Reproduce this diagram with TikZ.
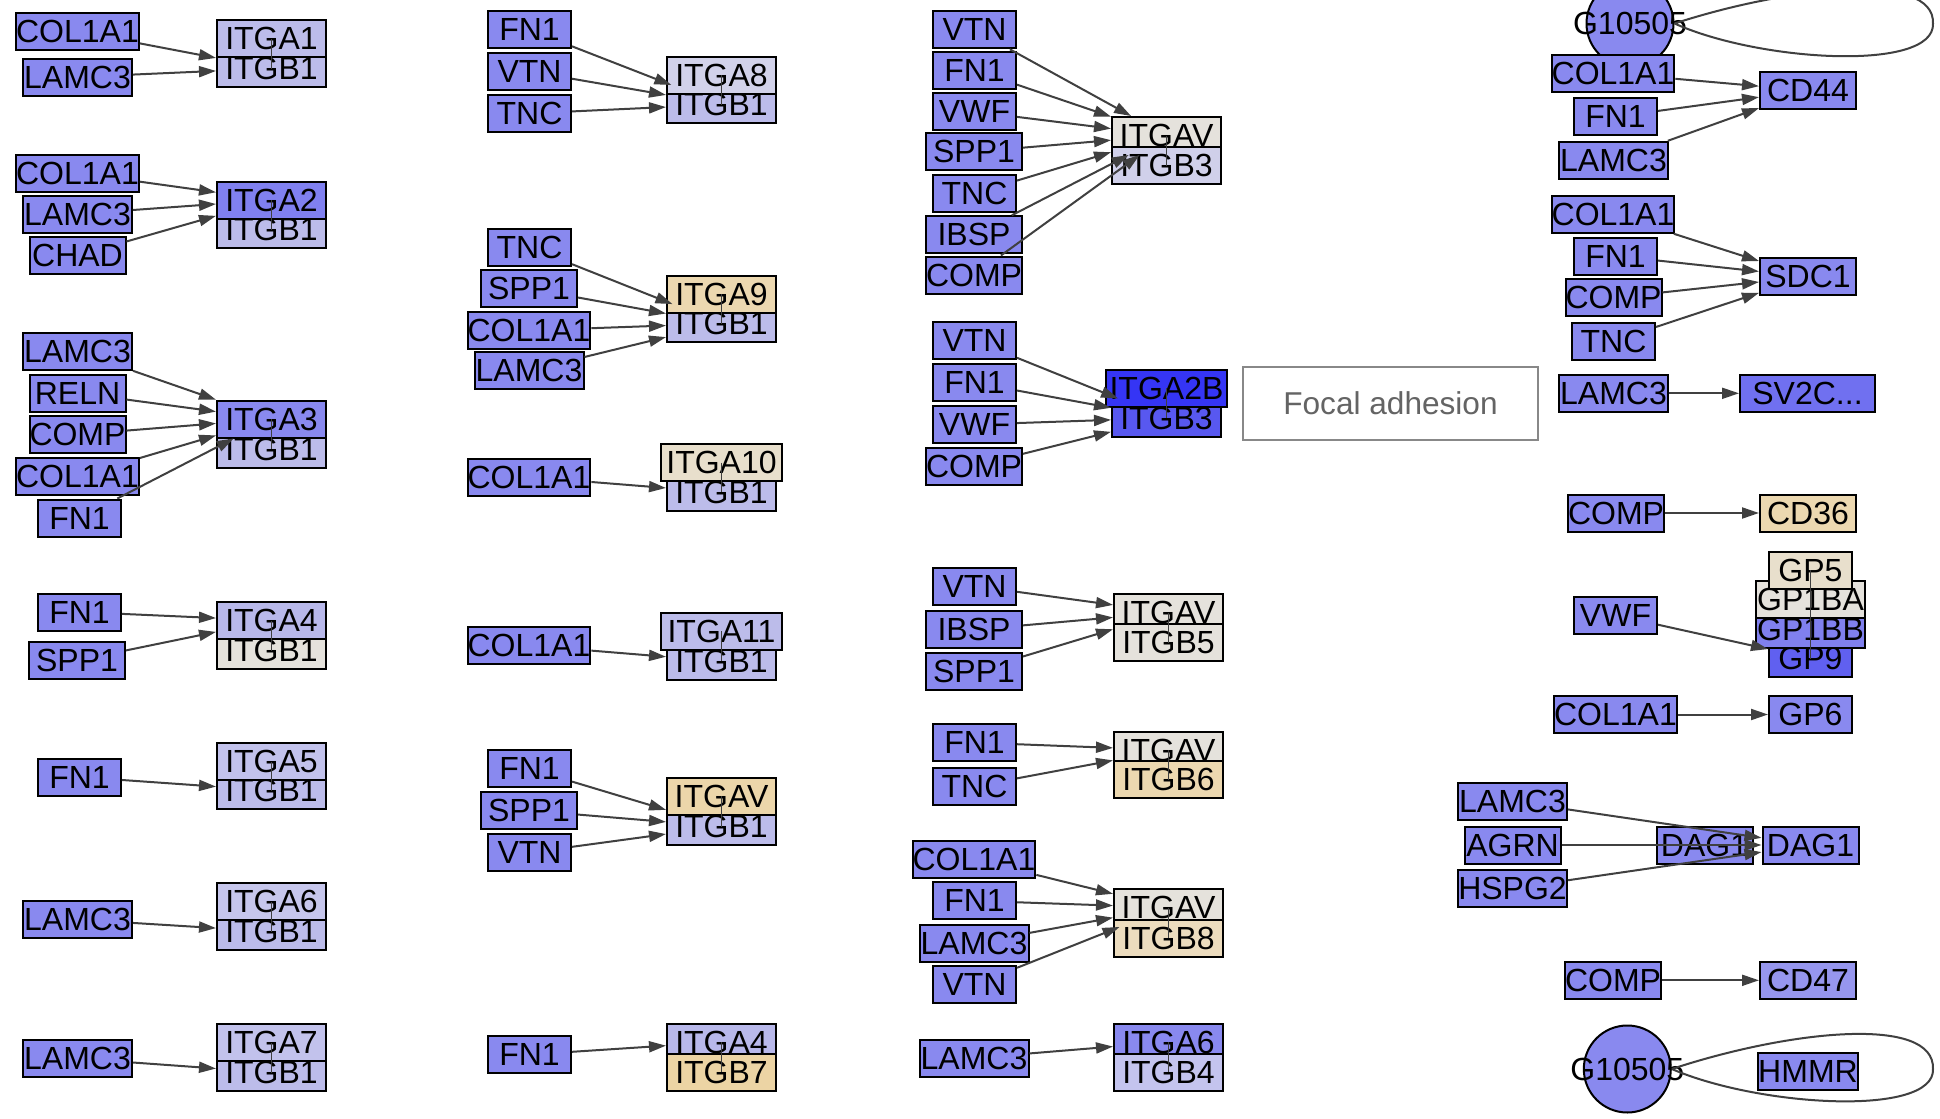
\documentclass[tikz,border=0pt]{standalone}
\usepackage{fontspec}
\setmainfont{Liberation Sans}
\usetikzlibrary{arrows.meta}
\newcommand{\gfont}{\fontsize{16}{18}\selectfont}
\definecolor{cSrc}{RGB}{137,137,239}
\definecolor{cEdge}{RGB}{64,64,64}
\definecolor{cLav}{RGB}{188,188,234}
\definecolor{cLavA4}{RGB}{184,184,234}
\definecolor{cLavA5}{RGB}{194,194,236}
\definecolor{cLavA6}{RGB}{198,198,236}
\definecolor{cLavA8}{RGB}{210,210,234}
\definecolor{cLavB3}{RGB}{208,208,234}
\definecolor{cLavB4}{RGB}{196,196,238}
\definecolor{cGrey}{RGB}{229,226,220}
\definecolor{cGreyA10}{RGB}{232,223,204}
\definecolor{cBeige}{RGB}{236,216,176}
\definecolor{cBeigeAV}{RGB}{236,214,170}
\definecolor{cBeigeB7}{RGB}{236,212,164}
\definecolor{cBeigeB8}{RGB}{236,220,190}
\definecolor{cBlueA2}{RGB}{128,128,240}
\definecolor{cBlueA2B}{RGB}{53,53,245}
\definecolor{cBlueB3}{RGB}{88,88,240}
\definecolor{cSV}{RGB}{112,112,240}
\definecolor{cGPBB}{RGB}{128,128,238}
\definecolor{cGP9}{RGB}{96,96,240}
\definecolor{cCD47}{RGB}{150,150,238}
\definecolor{cFA}{RGB}{136,136,136}
\definecolor{cFAt}{RGB}{100,100,100}
\tikzset{
  box/.style={draw=black, line width=1pt, rectangle, inner sep=0pt, minimum height=18.5pt, font=\gfont},
  wA/.style={minimum width=41.5pt},
  wB/.style={minimum width=48pt},
  wC/.style={minimum width=54.5pt},
  wD/.style={minimum width=60.5pt},
  wE/.style={minimum width=67.5pt},
  src/.style={box, fill=cSrc},
  mem/.style={box, wC, fill=#1},
  link/.style={draw=cEdge, line width=1pt, -{Triangle[length=8.5pt,width=5.5pt]}},
  cline/.style={draw=cEdge, line width=0.8pt},
  gcirc/.style={circle, draw=black, line width=1pt, fill=cSrc, minimum size=43.5pt, inner sep=0pt},
  loopline/.style={draw=cEdge, line width=1pt},
}
\begin{document}
\begin{tikzpicture}[x=0.5pt,y=-0.5pt]
\path[use as bounding box, fill=white] (0,0) rectangle (1940,1119);

% ---------------- Column 1 ----------------
% G1
\node[src,wD] (s1a) at (77.5,31.5) {COL1A1};
\node[src,wC] (s1b) at (77.5,77) {LAMC3};
\node[mem=cLav] (b1) at (271.5,68.5) {ITGB1};
\node[mem=cLav] (a1) at (271.5,38.5) {ITGA1};
% G2
\node[src,wD] (s2a) at (77.5,173) {COL1A1};
\node[src,wC] (s2b) at (77.5,214) {LAMC3};
\node[src,wB] (s2c) at (77.5,255.5) {CHAD};
\node[mem=cLav] (b2) at (271.5,229.5) {ITGB1};
\node[mem=cBlueA2] (a2) at (271.5,200) {ITGA2};
% G3
\node[src,wC] (s3a) at (77.5,351.5) {LAMC3};
\node[src,wB] (s3b) at (77.5,393) {RELN};
\node[src,wB] (s3c) at (77.5,434.5) {COMP};
\node[src,wD] (s3d) at (77.5,476.5) {COL1A1};
\node[src,wA] (s3e) at (79.5,518) {FN1};
\node[mem=cLav] (b3) at (271.5,449) {ITGB1};
\node[mem=cSrc] (a3) at (271.5,419) {ITGA3};
% G4
\node[src,wA] (s4a) at (79.5,612) {FN1};
\node[src,wB] (s4b) at (77,660.5) {SPP1};
\node[mem=cGrey] (b4) at (271.5,650.5) {ITGB1};
\node[mem=cLavA4] (a4) at (271.5,620.5) {ITGA4};
% G5
\node[src,wA] (s5a) at (79.5,777) {FN1};
\node[mem=cLav] (b5) at (271.5,790.5) {ITGB1};
\node[mem=cLavA5] (a5) at (271.5,761.5) {ITGA5};
% G6
\node[src,wC] (s6a) at (77.5,919.5) {LAMC3};
\node[mem=cLav] (b6) at (271.5,931.5) {ITGB1};
\node[mem=cLavA6] (a6) at (271.5,901.5) {ITGA6};
% G7
\node[src,wC] (s7a) at (77.5,1058.5) {LAMC3};
\node[mem=cLav] (b7) at (271.5,1072.5) {ITGB1};
\node[mem=cLavA5] (a7) at (271.5,1042.5) {ITGA7};

% ---------------- Column 2 ----------------
% G8
\node[src,wA] (s8a) at (529.5,29.8) {FN1};
\node[src,wA] (s8b) at (529.5,71.4) {VTN};
\node[src,wA] (s8c) at (529.5,113.4) {TNC};
\node[mem=cLav] (b8) at (721.5,104.5) {ITGB1};
\node[mem=cLavA8] (a8) at (721.5,75) {ITGA8};
% G9
\node[src,wA] (s9a) at (529.5,247.3) {TNC};
\node[src,wB] (s9b) at (529,288.6) {SPP1};
\node[src,wD] (s9c) at (529,330.4) {COL1A1};
\node[src,wC] (s9d) at (529,370.5) {LAMC3};
\node[mem=cLav] (b9) at (721.5,323.6) {ITGB1};
\node[mem=cBeige] (a9) at (721.5,294) {ITGA9};
% G10
\node[src,wD] (s10a) at (529,477) {COL1A1};
\node[mem=cLav] (b10) at (721.5,492.4) {ITGB1};
\node[mem=cGreyA10,wD] (a10) at (721.5,462.5) {ITGA10};
% G11
\node[src,wD] (s11a) at (529,645.5) {COL1A1};
\node[mem=cLav] (b11) at (721.5,661.3) {ITGB1};
\node[mem=cLav,wD] (a11) at (721.5,631) {ITGA11};
% G12
\node[src,wA] (s12a) at (529.5,768.8) {FN1};
\node[src,wB] (s12b) at (529,810.5) {SPP1};
\node[src,wA] (s12c) at (529.5,852.6) {VTN};
\node[mem=cLav] (b12) at (721.5,826.5) {ITGB1};
\node[mem=cBeigeAV] (a12) at (721.5,796.4) {ITGAV};
% G13
\node[src,wA] (s13a) at (529.5,1054.6) {FN1};
\node[mem=cLavA4] (a13) at (721.5,1042) {ITGA4};
\node[mem=cBeigeB7] (b13) at (721.5,1072) {ITGB7};

% ---------------- Column 3 ----------------
% G14
\node[src,wA] (s14a) at (974.5,29.8) {VTN};
\node[src,wA] (s14b) at (974.5,70.2) {FN1};
\node[src,wA] (s14c) at (974.5,111.6) {VWF};
\node[src,wB] (s14d) at (974,151.8) {SPP1};
\node[src,wA] (s14e) at (974.5,193.4) {TNC};
\node[src,wB] (s14f) at (974,234.8) {IBSP};
\node[src,wB] (s14g) at (974,275) {COMP};
\node[mem=cGrey] (a14) at (1166.5,135.5) {ITGAV};
\node[mem=cLavB3] (b14) at (1166.5,165.5) {ITGB3};
% G15
\node[src,wA] (s15a) at (974.5,340.7) {VTN};
\node[src,wA] (s15b) at (974.5,382.7) {FN1};
\node[src,wA] (s15c) at (974.5,424.5) {VWF};
\node[src,wB] (s15d) at (974,466) {COMP};
\node[mem=cBlueB3] (b15) at (1166.5,418) {ITGB3};
\node[mem=cBlueA2B,wD] (a15) at (1166.5,388) {ITGA2B};
% G16
\node[src,wA] (s16a) at (974.5,586) {VTN};
\node[src,wB] (s16b) at (974,629.7) {IBSP};
\node[src,wB] (s16c) at (974,671.3) {SPP1};
\node[mem=cGrey] (a16) at (1168.5,612.5) {ITGAV};
\node[mem=cGrey] (b16) at (1168.5,642.5) {ITGB5};
% G17
\node[src,wA] (s17a) at (974.5,742.6) {FN1};
\node[src,wA] (s17b) at (974.5,786.3) {TNC};
\node[mem=cGrey] (a17) at (1168.5,750) {ITGAV};
\node[mem=cBeige] (b17) at (1168.5,779.5) {ITGB6};
% G18
\node[src,wD] (s18a) at (974,859.5) {COL1A1};
\node[src,wA] (s18b) at (974.5,900.8) {FN1};
\node[src,wC] (s18c) at (974,943) {LAMC3};
\node[src,wA] (s18d) at (974.5,984.7) {VTN};
\node[mem=cGrey] (a18) at (1168.5,907.5) {ITGAV};
\node[mem=cBeigeB8] (b18) at (1168.5,938) {ITGB8};
% G19
\node[src,wC] (s19a) at (974,1058) {LAMC3};
\node[mem=cSrc] (a19) at (1168.5,1042) {ITGA6};
\node[mem=cLavB4] (b19) at (1168.5,1072) {ITGB4};

% Focal adhesion label box
\node[draw=cFA, line width=1pt, rectangle, inner sep=0pt, minimum width=147.5pt, minimum height=36.5pt, text=cFAt, font=\fontsize{15.8}{18}\selectfont] (fa) at (1390.5,403.5) {Focal adhesion};

% ---------------- Column 4 ----------------
\node[gcirc, label={[font=\gfont]center:G10505}] (gA) at (1630,23.5) {};
% CD44
\node[src,wD] (c1a) at (1613,73.3) {COL1A1};
\node[src,wA] (c1b) at (1615.5,116.7) {FN1};
\node[src,wC] (c1c) at (1613.5,160.3) {LAMC3};
\node[src,wB] (cd44) at (1808,90.5) {CD44};
% SDC1
\node[src,wD] (c2a) at (1613,214.3) {COL1A1};
\node[src,wA] (c2b) at (1615.5,256) {FN1};
\node[src,wB] (c2c) at (1613.5,297.7) {COMP};
\node[src,wA] (c2d) at (1613.5,341) {TNC};
\node[src,wB] (sdc1) at (1808,276.7) {SDC1};
% SV2C
\node[src,wC] (c3a) at (1613.5,393.3) {LAMC3};
\node[box,wE,fill=cSV] (sv2c) at (1807.5,393.3) {SV2C...};
% CD36
\node[src,wB] (c4a) at (1616,513) {COMP};
\node[box,wB,fill=cBeige] (cd36) at (1808,513) {CD36};
% GP complex
\node[src,wA] (c5a) at (1615.5,615.3) {VWF};
\node[box,wA,fill=cGP9] (gp9) at (1810.5,658.5) {GP9};
\node[box,wC,fill=cGPBB] (gp1bb) at (1810.5,629.5) {GP1BB};
\node[box,wC,fill=cGrey] (gp1ba) at (1810.5,599.5) {GP1BA};
\node[box,wA,fill=cGreyA10] (gp5) at (1810.5,570) {GP5};
% GP6
\node[src,wD] (c6a) at (1615.5,714.5) {COL1A1};
\node[src,wA] (gp6) at (1810.5,714.5) {GP6};
% DAG1
\node[src,wC] (c7a) at (1512.5,801.3) {LAMC3};
\node[src,wB] (c7b) at (1512.5,845) {AGRN};
\node[src,wC] (c7c) at (1512.5,888.3) {HSPG2};
\node[src,wB] (dag1l) at (1704.5,845) {DAG1};
\node[src,wB] (dag1r) at (1810.5,845) {DAG1};
% CD47
\node[src,wB] (c8a) at (1613,980.3) {COMP};
\node[box,wB,fill=cCD47] (cd47) at (1808,980.3) {CD47};
% bottom G10505
\node[gcirc, label={[font=\gfont]center:G10505}] (gB) at (1627.3,1069) {};
\node[src,wB] (hmmr) at (1808,1071) {HMMR};

% ---------------- complex member lines ----------------
\foreach \p/\q in {a1/b1,a2/b2,a3/b3,a4/b4,a5/b5,a6/b6,a7/b7,a8/b8,a9/b9,a10/b10,a11/b11,a12/b12,a13/b13,a14/b14,a15/b15,a16/b16,a17/b17,a18/b18,a19/b19,gp5/gp9}
  \draw[cline] (\p.center) -- (\q.center);

% ---------------- edges ----------------
\draw[link] (s1a) -- (b1);
\draw[link] (s1b) -- (b1);
\draw[link] (s2a) -- (a2);
\draw[link] (s2b) -- (a2);
\draw[link] (s2c) -- (a2);
\draw[link] (s3a) -- (a3);
\draw[link] (s3b) -- (a3);
\draw[link] (s3c) -- (a3);
\draw[link] (s3d) -- (a3);
\draw[link] (s3e) -- (a3);
\draw[link] (s4a) -- (a4);
\draw[link] (s4b) -- (a4);
\draw[link] (s5a) -- (b5);
\draw[link] (s6a) -- (b6);
\draw[link] (s7a) -- (b7);

\draw[link] (s8a) -- (b8);
\draw[link] (s8b) -- (b8);
\draw[link] (s8c) -- (b8);
\draw[link] (s9a) -- (b9);
\draw[link] (s9b) -- (b9);
\draw[link] (s9c) -- (b9);
\draw[link] (s9d) -- (b9);
\draw[link] (s10a) -- (b10);
\draw[link] (s11a) -- (b11);
\draw[link] (s12a) -- (b12);
\draw[link] (s12b) -- (b12);
\draw[link] (s12c) -- (b12);
\draw[link] (s13a) -- (a13);

\draw[link] (s14a) -- (a14);
\draw[link] (s14b) -- (a14);
\draw[link] (s14c) -- (a14);
\draw[link] (s14d) -- (a14);
\draw[link] (s14e) -- (a14);
\draw[link] (s14f) -- (a14);
\draw[link] (s14g) -- (a14);
\draw[link] (s15a) -- (b15);
\draw[link] (s15b) -- (b15);
\draw[link] (s15c) -- (b15);
\draw[link] (s15d) -- (b15);
\draw[link] (s16a) -- (a16);
\draw[link] (s16b) -- (a16);
\draw[link] (s16c) -- (a16);
\draw[link] (s17a) -- (a17);
\draw[link] (s17b) -- (a17);
\draw[link] (s18a) -- (a18);
\draw[link] (s18b) -- (a18);
\draw[link] (s18c) -- (a18);
\draw[link] (s18d) -- (a18);
\draw[link] (s19a) -- (a19);

\draw[link] (c1a) -- (cd44);
\draw[link] (c1b) -- (cd44);
\draw[link] (c1c) -- (cd44);
\draw[link] (c2a) -- (sdc1);
\draw[link] (c2b) -- (sdc1);
\draw[link] (c2c) -- (sdc1);
\draw[link] (c2d) -- (sdc1);
\draw[link] (c3a) -- (sv2c);
\draw[link] (c4a) -- (cd36);
\draw[link] (c5a) -- (gp9);
\draw[link] (c6a) -- (gp6);
\draw[link] (c7a) -- (dag1r);
\draw[link] (c7b) -- (dag1r);
\draw[link] (c7c) -- (dag1r);
\draw[link] (c8a) -- (cd47);

% self loops
\draw[loopline] (gA.east) .. controls (1790,-14) and (1935,-29) .. (1933,23.5) .. controls (1935,72) and (1760,62) .. (gA.east);
\draw[loopline] (gB.east) .. controls (1790,1030) and (1935,1015) .. (1933,1069) .. controls (1935,1117) and (1760,1107) .. (gB.east);
\end{tikzpicture}
\end{document}
